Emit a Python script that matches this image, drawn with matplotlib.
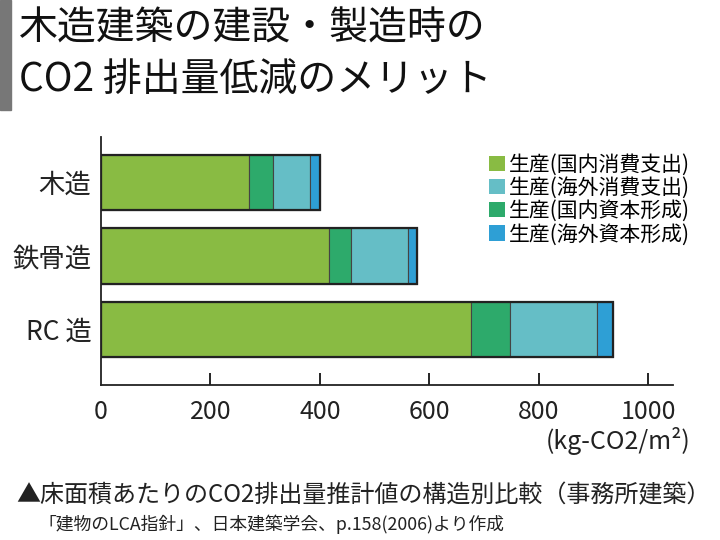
import matplotlib.pyplot as plt
from matplotlib.patches import Patch, Rectangle
import numpy as np

plt.rcParams['font.family'] = ['Noto Sans CJK JP', 'DejaVu Sans']

# Data (kg-CO2/m2)
structures = ['木造', '鉄骨造', 'RC 造']
domestic_consumption = [270, 416, 676]
domestic_capital = [44, 41, 71]
overseas_consumption = [68, 104, 160]
overseas_capital = [18, 17, 29]
xticks = [0, 200, 400, 600, 800, 1000]

series = [
    ('生産(国内消費支出)', domestic_consumption, '#89bb43'),
    ('生産(国内資本形成)', domestic_capital, '#2daa6b'),
    ('生産(海外消費支出)', overseas_consumption, '#65bec6'),
    ('生産(海外資本形成)', overseas_capital, '#2e9fd5'),
]
legend_order = [0, 2, 1, 3]

fig = plt.figure(figsize=(7.2, 5.4), dpi=100)
ax = fig.add_axes([101 / 720, 1 - 385 / 540, 572 / 720, 248 / 540])

y = np.arange(len(structures))
left = np.zeros(len(structures))
for name, vals, col in series:
    ax.barh(y, vals, left=left, height=0.75, color=col,
            edgecolor='#444444', linewidth=0.8)
    left += np.array(vals)

# outer frame of each bar
for yi, total in zip(y, left):
    ax.add_patch(Rectangle((0, yi - 0.375), total, 0.75, fill=False,
                           edgecolor='#222222', linewidth=1.6, zorder=3))

ax.set_xlim(0, 1045)
ax.set_ylim(2.755, -0.62)
ax.set_yticks(y)
ax.set_yticklabels(structures, fontsize=19, color='#222222')
ax.set_xticks(xticks)
ax.set_xticklabels([str(v) for v in xticks], fontsize=18, color='#222222')
ax.tick_params(axis='y', length=0, pad=7)
ax.tick_params(axis='x', direction='in', length=9, width=1.2, pad=10)
ax.xaxis.get_major_ticks()[0].tick1line.set_visible(False)
for s in ['top', 'right']:
    ax.spines[s].set_visible(False)
for s in ['left', 'bottom']:
    ax.spines[s].set_linewidth(1.3)
    ax.spines[s].set_color('#222222')

handles = [Patch(facecolor=series[i][2], edgecolor='none') for i in legend_order]
labels = [series[i][0] for i in legend_order]
ax.legend(handles, labels, loc='upper left', bbox_to_anchor=(0.66, 0.975),
          frameon=False, fontsize=15, handlelength=0.75, handleheight=0.75,
          handletextpad=0.2, labelspacing=0.06, borderpad=0)

fig.text(690 / 720, 1 - 441 / 540, '(kg-CO2/m²)', fontsize=18, ha='right',
         va='center', color='#222222')

# title block
fig.patches.append(Rectangle((0, 1 - 110 / 540), 11 / 720, 110 / 540,
                             transform=fig.transFigure, color='#777777'))
fig.text(19 / 720, 1 - 29 / 540, '木造建築の建設・製造時の', fontsize=28,
         va='center', color='#111111')
fig.text(19 / 720, 1 - 80 / 540, 'CO2 排出量低減のメリット', fontsize=28,
         va='center', color='#111111')

fig.text(16 / 720, 1 - 495 / 540, '▲床面積あたりのCO2排出量推計値の構造別比較（事務所建築）',
         fontsize=17.3, va='center', color='#222222')
fig.text(38 / 720, 1 - 524 / 540, '「建物のLCA指針」、日本建築学会、p.158(2006)より作成',
         fontsize=12.8, va='center', color='#222222')

fig.savefig('out.png', dpi=100)
